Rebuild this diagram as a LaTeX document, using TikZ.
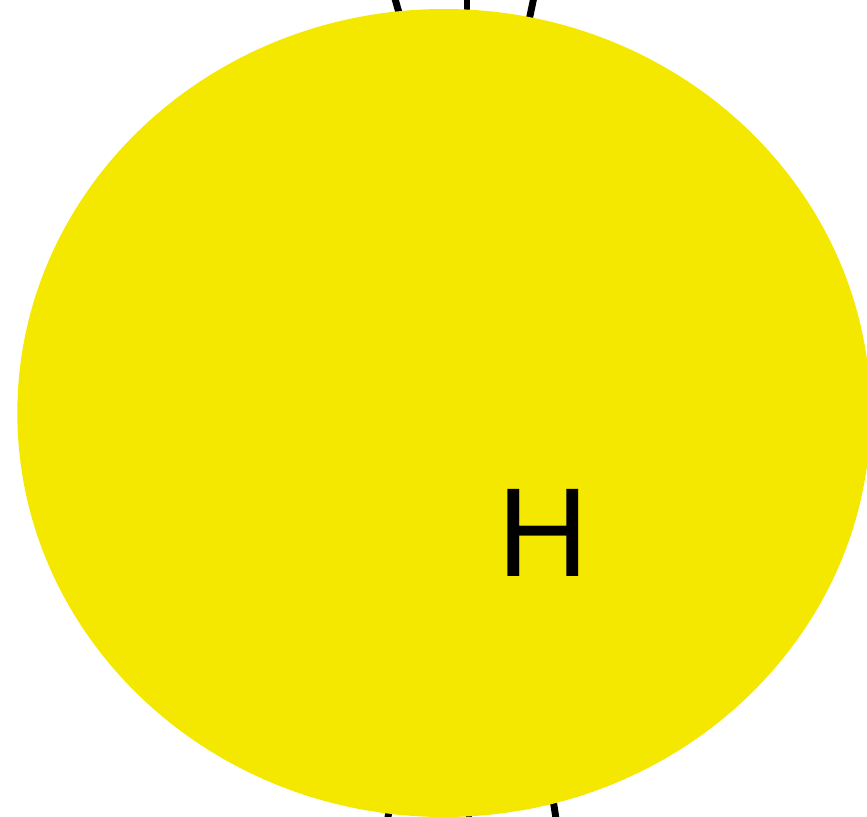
\documentclass[tikz,border=0pt]{standalone}
\usepackage{fontspec}
\setmainfont{Liberation Sans}
\usetikzlibrary{shapes.geometric,backgrounds}
\definecolor{hyellow}{HTML}{F5E800}

\begin{document}
\begin{tikzpicture}[
  x=0.75pt, y=-0.75pt,
  atom/.style={
    ellipse, fill=hyellow, draw=none, inner sep=0pt,
    minimum width=640pt, minimum height=606pt},
  atomlbl/.style={font=\fontsize{95}{95}\selectfont, text=black, inner sep=0pt},
  bond/.style={draw=black, line width=5.2pt},
]
  \useasboundingbox (0,0) rectangle (867,817);

  %% ---- Atomo ----
  \node[atom] (hnode) at (444,413) {};
  \node[atomlbl] (hlbl) at (543,533) {H};

  %% ---- Enlaces (detras del atomo) ----
  \coordinate (ta) at (393,-8);  \coordinate (ta') at (404,30);
  \coordinate (tb) at (467,-8);  \coordinate (tb') at (467,30);
  \coordinate (tc) at (535,-8);  \coordinate (tc') at (527,30);
  \coordinate (ba) at (387,825); \coordinate (ba') at (393,780);
  \coordinate (bb) at (469,825); \coordinate (bb') at (469,780);
  \coordinate (bc) at (557,825); \coordinate (bc') at (550,780);

  \begin{pgfonlayer}{background}
    \foreach \s/\e in {ta/ta',tb/tb',tc/tc',ba/ba',bb/bb',bc/bc'}{
      \draw[bond] (\s) -- (\e);
    }
  \end{pgfonlayer}
\end{tikzpicture}
\end{document}
